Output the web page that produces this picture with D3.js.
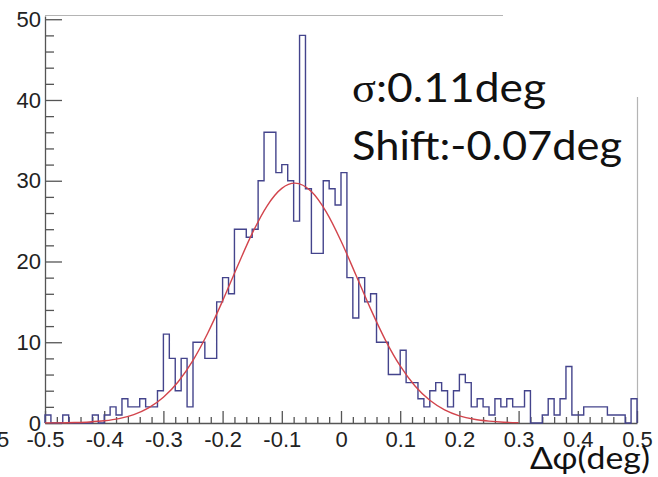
<!DOCTYPE html>
<html>
<head>
<meta charset="utf-8">
<script src="https://cdn.jsdelivr.net/npm/d3@7"></script>
<style>
  body { margin: 0; background: #fff; }
  svg { display: block; }
</style>
</head>
<body>
<svg id="chart" width="658" height="477"></svg>
<script>
// histogram: 100 bins of 0.01 deg from -0.5 to 0.5
const binStart = -0.5;
const binWidth = 0.01;
const counts = [
  1, 0, 0, 1, 0, 0, 0, 0, 1, 0,
  1, 2, 1, 3, 2, 2, 3, 2, 2, 4,
  11, 8, 4, 8, 2, 10, 10, 8, 8, 15,
  18, 16, 24, 24, 23, 24, 30, 36, 36, 31,
  32, 30, 25, 48, 29, 21, 21, 30, 29, 27,
  31, 18, 13, 18, 15, 16, 10, 10, 6, 6,
  9, 5, 5, 3, 2, 4, 5, 4, 2, 4,
  6, 5, 2, 3, 2, 1, 3, 2, 3, 2,
  2, 4, 0, 0, 1, 3, 1, 3, 7, 1,
  1, 2, 2, 2, 2, 1, 1, 1, 0, 3
];

// gaussian fit curve
const fitX = [-0.5, -0.475, -0.45, -0.425, -0.4, -0.375, -0.35, -0.325, -0.3, -0.275,
  -0.25, -0.225, -0.2, -0.175, -0.15, -0.125, -0.1, -0.078, -0.05, -0.025,
  0, 0.025, 0.05, 0.075, 0.1, 0.125, 0.15, 0.175, 0.2, 0.225, 0.25, 0.275, 0.3];
const fitY = [0.01, 0.02, 0.06, 0.13, 0.27, 0.54, 1.04, 1.87, 3.18, 5.11,
  7.76, 11.15, 15.12, 19.38, 23.48, 26.87, 29.05, 29.7, 28.66, 26.14,
  22.54, 18.36, 14.13, 10.27, 7.06, 4.58, 2.81, 1.63, 0.89, 0.46, 0.23, 0.1, 0.05];

const xMajor = [-0.5, -0.4, -0.3, -0.2, -0.1, 0, 0.1, 0.2, 0.3, 0.4, 0.5];
const xLabels = ["-0.5", "-0.4", "-0.3", "-0.2", "-0.1", "0", "0.1", "0.2", "0.3", "0.4", "0.5"];
const yMajor = [0, 10, 20, 30, 40, 50];

const svg = d3.select("#chart");

const x = d3.scaleLinear().domain([-0.5, 0.5]).range([45, 637]);
const y = d3.scaleLinear().domain([0, 50.4]).range([423, 16]);

const axisColor = "#555";
const tickFont = "'Liberation Sans', Arial, sans-serif";

// frame pieces (the top-right corner is hidden behind the text)
svg.append("line")
    .attr("x1", x(-0.5)).attr("x2", 503)
    .attr("y1", y(50.4) - 0.5).attr("y2", y(50.4) - 0.5)
    .attr("stroke", "#b4b4b4").attr("stroke-width", 1.2);
svg.append("line")
    .attr("x1", x(0.5) + 0.5).attr("x2", x(0.5) + 0.5)
    .attr("y1", 97).attr("y2", y(0))
    .attr("stroke", "#b4b4b4").attr("stroke-width", 1.2);

// y axis
const yMinor = d3.range(0, 51, 2).filter(v => v % 10 !== 0);
svg.append("g")
    .attr("transform", `translate(${x(-0.5)},0)`)
    .call(d3.axisLeft(y).tickValues(yMinor).tickSize(-9).tickFormat(""))
    .call(g => g.select(".domain").remove())
    .call(g => g.selectAll("line").attr("stroke", axisColor).attr("stroke-width", 1.3));
svg.append("g")
    .attr("transform", `translate(${x(-0.5)},0)`)
    .call(d3.axisLeft(y).tickValues(yMajor).tickSize(-17).tickPadding(4).tickSizeOuter(0))
    .call(g => g.select(".domain").attr("stroke", axisColor).attr("stroke-width", 1.3))
    .call(g => g.selectAll("line").attr("stroke", axisColor).attr("stroke-width", 1.3))
    .call(g => g.selectAll("text")
        .attr("font-family", tickFont)
        .attr("font-size", 22).attr("fill", "#222"));

// x axis
const xMinor = d3.range(-50, 51, 2).map(v => v / 100).filter(v => Math.round(v * 100) % 10 !== 0);
svg.append("g")
    .attr("transform", `translate(0,${y(0)})`)
    .call(d3.axisBottom(x).tickValues(xMinor).tickSize(-6).tickFormat(""))
    .call(g => g.select(".domain").remove())
    .call(g => g.selectAll("line").attr("stroke", axisColor).attr("stroke-width", 1.3));
svg.append("g")
    .attr("transform", `translate(0,${y(0)})`)
    .call(d3.axisBottom(x).tickValues(xMajor).tickSize(-12).tickPadding(8).tickSizeOuter(0)
        .tickFormat((d, i) => xLabels[i]))
    .call(g => g.select(".domain").attr("stroke", axisColor).attr("stroke-width", 1.3))
    .call(g => g.selectAll("line").attr("stroke", axisColor).attr("stroke-width", 1.3))
    .call(g => g.selectAll("text")
        .attr("font-family", tickFont)
        .attr("font-size", 22).attr("fill", "#222"));

// stray label tail at the left edge
svg.append("text")
    .attr("x", -3).attr("y", 447)
    .attr("font-family", tickFont)
    .attr("font-size", 22).attr("fill", "#222")
    .text("5");

// histogram outline
const pts = [[binStart, 0]];
counts.forEach((c, i) => {
  pts.push([binStart + i * binWidth, c]);
  pts.push([binStart + (i + 1) * binWidth, c]);
});
pts.push([binStart + counts.length * binWidth, 0]);

svg.append("path")
    .attr("d", d3.line().x(d => x(d[0])).y(d => y(d[1]))(pts))
    .attr("fill", "none")
    .attr("stroke", "#44448c")
    .attr("stroke-width", 1.4);

// fit curve
svg.append("path")
    .attr("d", d3.line().x(d => x(d[0])).y(d => y(d[1])).curve(d3.curveMonotoneX)(fitX.map((v, i) => [v, fitY[i]])))
    .attr("fill", "none")
    .attr("stroke", "#d2444c")
    .attr("stroke-width", 1.4);

// fit result text
const note = svg.append("g")
    .attr("font-family", "Lato, 'Open Sans', sans-serif")
    .attr("fill", "#111");
const l1 = note.append("text").attr("x", 352).attr("y", 102).attr("font-size", 40)
    .attr("textLength", 194).attr("lengthAdjust", "spacingAndGlyphs");
l1.append("tspan").attr("font-family", "'Liberation Serif', serif").text("σ");
l1.append("tspan").text(":0.11deg");
note.append("text").attr("x", 352).attr("y", 160).attr("font-size", 40)
    .attr("textLength", 270).attr("lengthAdjust", "spacingAndGlyphs")
    .text("Shift:-0.07deg");

svg.append("text")
    .attr("x", 530).attr("y", 469)
    .attr("font-family", "Lato, 'Open Sans', sans-serif")
    .attr("font-size", 31).attr("fill", "#111")
    .attr("textLength", 120).attr("lengthAdjust", "spacingAndGlyphs")
    .text("Δφ(deg)");
</script>
</body>
</html>
